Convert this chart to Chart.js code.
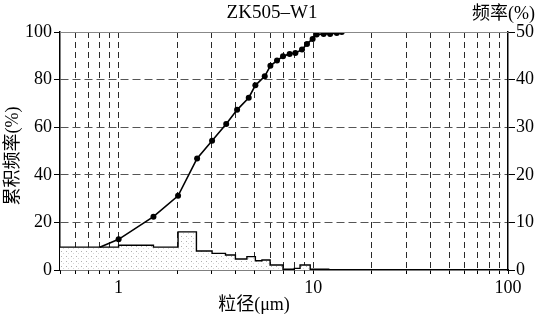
<!DOCTYPE html>
<html>
<head>
<meta charset="utf-8">
<script src="https://cdn.jsdelivr.net/npm/chart.js@4/dist/chart.umd.min.js"></script>
<style>
html, body { margin: 0; padding: 0; background: #fff; }
#wrap { width: 543px; height: 321px; }
</style>
</head>
<body>
<div id="wrap"><canvas id="c" width="543" height="321"></canvas></div>
<script>
// ---- Data ---------------------------------------------------------------

// cumulative curve: grain size (µm) vs cumulative frequency (%)
const cumSize = [0.8, 1.0, 1.51, 2.02, 2.53, 3.02, 3.57, 4.06, 4.66, 5.04, 5.63, 6.02, 6.51, 6.99,
                 7.56, 8.09, 8.75, 9.28, 9.92, 10.4, 11.3, 12.2, 13.2, 14.0];
const cumPercent = [9.6, 12.9, 22.4, 31.2, 46.9, 54.3, 61.3, 67.3, 72.4, 77.6, 81.4, 85.8, 88.0, 89.8,
                    90.8, 91.2, 92.6, 95.0, 97.1, 98.9, 99.2, 99.2, 99.6, 100];

// histogram: left edge of each bin (µm) and its frequency (%)
const binEdges = [0.5, 1.0, 1.51, 2.02, 2.51, 3.02, 3.54, 3.98, 4.56, 5.04, 5.45, 6.0, 6.99, 7.99,
                  8.55, 9.64, 12.0, 14.0];
const binFreq = [4.8, 5.2, 4.8, 8.0, 4.0, 3.5, 3.15, 2.3, 2.8, 1.95, 2.1, 1.05, 0.15, 0.35,
                 1.05, 0.15, 0.05, 0];

// axes
const xTickValues = [0.5, 0.6, 0.7, 0.8, 0.9, 1, 2, 3, 4, 5, 6, 7, 8, 9,
                     10, 20, 30, 40, 50, 60, 70, 80, 90, 100];
const xTickLabels = [1, 10, 100];
const yLeftLabels = [0, 20, 40, 60, 80, 100];
const yRightLabels = [0, 10, 20, 30, 40, 50];
const yDashedLines = [20, 40, 60, 80];

const SERIF = '"Liberation Serif", "Noto Sans CJK SC", serif';

// ---- Stipple fill for the histogram -------------------------------------

function stipple() {
    const c = document.createElement('canvas');
    c.width = 5;
    c.height = 5;
    const g = c.getContext('2d');
    g.fillStyle = '#fff';
    g.fillRect(0, 0, 5, 5);
    g.fillStyle = '#b0b0b0';
    g.fillRect(1, 1, 1, 1);
    g.fillStyle = '#d8d8d8';
    g.fillRect(3, 3, 1, 1);
    return g.createPattern(c, 'repeat');
}

// ---- Titles and frame ---------------------------------------------------

const textPlugin = {
    id: 'texts',
    afterDraw(chart) {
        const { ctx, chartArea: a } = chart;
        ctx.save();
        ctx.fillStyle = '#000';
        ctx.textBaseline = 'middle';

        ctx.font = '19px ' + SERIF;
        ctx.textAlign = 'center';
        ctx.fillText('ZK505–W1', 272, 13);

        ctx.font = '18px ' + SERIF;
        ctx.textAlign = 'left';
        ctx.fillText('频率(%)', 472, 14);

        ctx.textAlign = 'center';
        ctx.fillText('粒径(μm)', 254, 305);

        ctx.translate(13, 156);
        ctx.rotate(-Math.PI / 2);
        ctx.fillText('累积频率(%)', 0, 0);
        ctx.restore();

        // faint top frame
        ctx.save();
        ctx.strokeStyle = '#888';
        ctx.lineWidth = 1;
        ctx.beginPath();
        ctx.moveTo(a.left, a.top + 0.5);
        ctx.lineTo(a.right, a.top + 0.5);
        ctx.stroke();
        ctx.restore();
    },
};

// ---- Chart --------------------------------------------------------------

const ctx = document.getElementById('c').getContext('2d');

new Chart(ctx, {
    type: 'line',
    data: {
        datasets: [
            {
                label: 'cumulative',
                data: cumSize.map((x, i) => ({ x, y: cumPercent[i] })),
                yAxisID: 'y',
                borderColor: '#000',
                borderWidth: 1.6,
                pointRadius: cumSize.map((_, i) => (i === 0 ? 0 : 3)),
                pointBackgroundColor: '#000',
                pointBorderColor: '#000',
                pointBorderWidth: 0,
                tension: 0,
                fill: false,
                order: 0,
            },
            {
                label: 'frequency',
                data: binEdges.map((x, i) => ({ x, y: binFreq[i] })),
                yAxisID: 'y2',
                stepped: 'before',
                borderColor: '#000',
                borderWidth: 1.4,
                pointRadius: 0,
                backgroundColor: stipple(),
                fill: 'origin',
                order: 1,
            },
        ],
    },
    options: {
        responsive: false,
        animation: false,
        layout: { padding: { top: 32, left: 0, right: 0, bottom: 0 } },
        plugins: {
            legend: { display: false },
            tooltip: { enabled: false },
        },
        scales: {
            x: {
                type: 'logarithmic',
                min: 0.5,
                max: 100,
                afterBuildTicks: (s) => { s.ticks = xTickValues.map(v => ({ value: v })); },
                afterFit: (s) => { s.height = 51; },
                ticks: {
                    autoSkip: false,
                    maxRotation: 0,
                    padding: 3,
                    color: '#000',
                    font: { family: SERIF, size: 18 },
                    callback: (v) => (xTickLabels.some(t => Math.abs(t - v) < 1e-9) ? String(v) : ''),
                },
                grid: {
                    color: (c) => (c.tick && (c.tick.value === 0.5 || c.tick.value === 100) ? 'transparent' : '#2a2a2a'),
                    lineWidth: 1,
                    tickColor: '#000',
                    tickLength: 4,
                },
                border: { display: true, color: '#000', width: 1.5, dash: [6, 4] },
            },
            y: {
                position: 'left',
                min: 0,
                max: 100,
                afterFit: (s) => { s.width = 60; },
                ticks: {
                    stepSize: 10,
                    padding: 2,
                    color: '#000',
                    font: { family: SERIF, size: 18 },
                    callback: (v) => (yLeftLabels.includes(v) ? String(v) : ''),
                },
                grid: {
                    color: (c) => (c.tick && yDashedLines.includes(c.tick.value) ? '#555' : 'transparent'),
                    lineWidth: 1,
                    tickColor: '#000',
                    tickLength: 6,
                },
                border: { display: true, color: '#000', width: 1.5, dash: [8, 4] },
            },
            y2: {
                position: 'right',
                min: 0,
                max: 50,
                afterFit: (s) => { s.width = 35; },
                ticks: {
                    stepSize: 10,
                    padding: 1,
                    color: '#000',
                    font: { family: SERIF, size: 18 },
                    callback: (v) => (yRightLabels.includes(v) ? String(v) : ''),
                },
                grid: {
                    drawOnChartArea: false,
                    tickColor: '#000',
                    tickLength: 7,
                },
                border: { display: true, color: '#000', width: 1.5 },
            },
        },
    },
    plugins: [textPlugin],
});
</script>
</body>
</html>
